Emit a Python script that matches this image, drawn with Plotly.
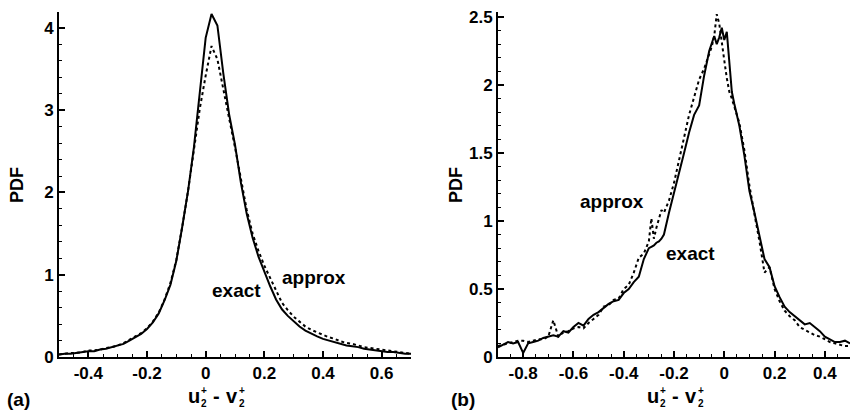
import plotly.graph_objects as go

# ---------------- data: panel (a) ----------------
xa = [-0.50, -0.48, -0.46, -0.44, -0.42, -0.40, -0.38, -0.36, -0.34, -0.32,
      -0.30, -0.28, -0.26, -0.24, -0.22, -0.20, -0.18, -0.16, -0.14, -0.12,
      -0.10, -0.08, -0.06, -0.04, -0.02, 0.00, 0.02, 0.04, 0.06, 0.08,
      0.10, 0.12, 0.14, 0.16, 0.18, 0.20, 0.22, 0.24, 0.26, 0.28,
      0.30, 0.32, 0.34, 0.36, 0.38, 0.40, 0.42, 0.44, 0.46, 0.48,
      0.50, 0.52, 0.54, 0.56, 0.58, 0.60, 0.62, 0.64, 0.66, 0.68, 0.70]
exact_a = [0.03, 0.04, 0.04, 0.05, 0.06, 0.07, 0.07, 0.09, 0.10, 0.12,
           0.14, 0.16, 0.20, 0.24, 0.28, 0.34, 0.42, 0.53, 0.69, 0.88,
           1.17, 1.58, 2.02, 2.55, 3.20, 3.88, 4.17, 4.03, 3.45, 2.95,
           2.58, 2.12, 1.74, 1.45, 1.22, 1.03, 0.86, 0.70, 0.58, 0.50,
           0.43, 0.37, 0.32, 0.28, 0.25, 0.22, 0.20, 0.18, 0.16, 0.14,
           0.13, 0.12, 0.10, 0.09, 0.08, 0.07, 0.06, 0.06, 0.05, 0.04, 0.04]
approx_a = [0.03, 0.04, 0.05, 0.05, 0.06, 0.08, 0.08, 0.09, 0.11, 0.12,
            0.14, 0.17, 0.21, 0.24, 0.29, 0.35, 0.43, 0.54, 0.70, 0.90,
            1.18, 1.58, 2.02, 2.52, 3.02, 3.42, 3.78, 3.62, 3.28, 2.90,
            2.55, 2.15, 1.79, 1.50, 1.29, 1.11, 0.96, 0.80, 0.66, 0.57,
            0.49, 0.43, 0.37, 0.33, 0.30, 0.27, 0.24, 0.22, 0.19, 0.17,
            0.16, 0.14, 0.12, 0.11, 0.10, 0.09, 0.08, 0.07, 0.06, 0.05, 0.04]

# ---------------- data: panel (b) ----------------
xb = [-0.90, -0.88, -0.86, -0.84, -0.82, -0.80, -0.78, -0.76, -0.74, -0.72,
      -0.70, -0.68, -0.66, -0.64, -0.62, -0.60, -0.58, -0.56, -0.54, -0.52,
      -0.50, -0.48, -0.46, -0.44, -0.42, -0.40, -0.38, -0.36, -0.34, -0.32,
      -0.30, -0.29, -0.28, -0.27, -0.26, -0.25,
      -0.24, -0.22, -0.20, -0.18, -0.16, -0.14, -0.12, -0.10, -0.08, -0.06,
      -0.05, -0.04, -0.03, -0.02, -0.01, 0.00, 0.01, 0.02, 0.03, 0.04,
      0.06, 0.08, 0.10, 0.12, 0.14, 0.16, 0.18, 0.20, 0.22, 0.24,
      0.26, 0.28, 0.30, 0.32, 0.34, 0.36, 0.38, 0.40, 0.42, 0.44,
      0.46, 0.48, 0.50]
exact_b = [0.07, 0.09, 0.11, 0.10, 0.11, 0.03, 0.10, 0.11, 0.12, 0.14,
           0.15, 0.16, 0.15, 0.19, 0.18, 0.22, 0.25, 0.23, 0.28, 0.31,
           0.33, 0.36, 0.39, 0.41, 0.42, 0.47, 0.50, 0.55, 0.59, 0.72,
           0.80, 0.81, 0.82, 0.84, 0.85, 0.87,
           0.90, 1.06, 1.20, 1.35, 1.50, 1.65, 1.78, 1.85, 2.07, 2.25,
           2.30, 2.36, 2.30, 2.35, 2.42, 2.33, 2.39, 2.15, 1.95, 1.86,
           1.70, 1.48, 1.22, 1.06, 0.90, 0.72, 0.66, 0.52, 0.44, 0.37,
           0.33, 0.30, 0.27, 0.24, 0.25, 0.22, 0.19, 0.15, 0.13, 0.11,
           0.11, 0.12, 0.10]
approx_b = [0.08, 0.09, 0.10, 0.11, 0.12, 0.12, 0.11, 0.12, 0.13, 0.13,
            0.15, 0.27, 0.15, 0.18, 0.19, 0.21, 0.22, 0.21, 0.25, 0.28,
            0.31, 0.37, 0.38, 0.42, 0.43, 0.50, 0.53, 0.62, 0.73, 0.76,
            0.85, 1.02, 0.87, 0.95, 1.02, 1.08,
            1.06, 1.15, 1.28, 1.45, 1.62, 1.78, 1.91, 2.04, 2.12, 2.22,
            2.28, 2.36, 2.52, 2.45, 2.33, 2.18, 2.05, 1.95, 1.90, 1.84,
            1.72, 1.52, 1.26, 1.05, 0.85, 0.62, 0.66, 0.50, 0.41, 0.34,
            0.30, 0.27, 0.22, 0.20, 0.18, 0.16, 0.15, 0.13, 0.11, 0.10,
            0.09, 0.08, 0.08]

# ---------------- tick labels ----------------
xa_tickvals = [-0.4, -0.2, 0.0, 0.2, 0.4, 0.6]
xa_ticktext = ["-0.4", "-0.2", "0", "0.2", "0.4", "0.6"]
ya_tickvals = [0, 1, 2, 3, 4]
ya_ticktext = ["0", "1", "2", "3", "4"]
xb_tickvals = [-0.8, -0.6, -0.4, -0.2, 0.0, 0.2, 0.4]
xb_ticktext = ["-0.8", "-0.6", "-0.4", "-0.2", "0", "0.2", "0.4"]
yb_tickvals = [0, 0.5, 1, 1.5, 2, 2.5]
yb_ticktext = ["0", "0.5", "1", "1.5", "2", "2.5"]

FONT = "Liberation Sans"
W, H = 850, 410

fig = go.Figure()
line_exact = dict(color="black", width=2, dash="solid")
line_approx = dict(color="black", width=2, dash="dot")

fig.add_trace(go.Scatter(x=xa, y=exact_a, mode="lines", line=line_exact,
                         xaxis="x", yaxis="y", name="exact"))
fig.add_trace(go.Scatter(x=xa, y=approx_a, mode="lines", line=line_approx,
                         xaxis="x", yaxis="y", name="approx"))
fig.add_trace(go.Scatter(x=xb, y=exact_b, mode="lines", line=line_exact,
                         xaxis="x2", yaxis="y2", name="exact"))
fig.add_trace(go.Scatter(x=xb, y=approx_b, mode="lines", line=line_approx,
                         xaxis="x2", yaxis="y2", name="approx"))

tickfont = dict(family=FONT, size=17, color="black", weight="bold")


def axis_common(minor_dtick):
    return dict(
        showline=True, linecolor="black", linewidth=2, mirror=False,
        showgrid=False, zeroline=False,
        ticks="inside", ticklen=6, tickwidth=2, tickcolor="black",
        tickfont=tickfont, tickmode="array", automargin=False,
        minor=dict(tickmode="linear", tick0=0, dtick=minor_dtick,
                   ticks="inside", ticklen=3, tickwidth=1,
                   tickcolor="black", showgrid=False),
    )


ybot = (H - 357) / H
ytop = (H - 11.5) / H

fig.update_layout(
    width=W, height=H,
    margin=dict(l=0, r=0, t=0, b=0),
    paper_bgcolor="white", plot_bgcolor="white",
    showlegend=False,
    xaxis=dict(domain=[59 / W, 411 / W], range=[-0.5, 0.7],
               tickvals=xa_tickvals, ticktext=xa_ticktext,
               anchor="y", **axis_common(0.05)),
    yaxis=dict(domain=[ybot, ytop], range=[0, 4.2],
               tickvals=ya_tickvals, ticktext=ya_ticktext,
               anchor="x", **axis_common(0.2)),
    xaxis2=dict(domain=[498 / W, 850 / W], range=[-0.9, 0.5],
                tickvals=xb_tickvals, ticktext=xb_ticktext,
                anchor="y2", **axis_common(0.05)),
    yaxis2=dict(domain=[ybot, ytop], range=[0, 2.54],
                tickvals=yb_tickvals, ticktext=yb_ticktext,
                anchor="x2", **axis_common(0.1)),
)


def px_ann(text, x, y, size, xanchor="center", yanchor="middle", angle=0):
    fig.add_annotation(
        text=text, x=x / W, y=1 - y / H, xref="paper", yref="paper",
        showarrow=False, xanchor=xanchor, yanchor=yanchor, textangle=angle,
        font=dict(family=FONT, size=size, color="black", weight="bold"),
    )


# y titles
px_ann("PDF", 17, 185, 18, angle=-90)
px_ann("PDF", 456, 185, 18, angle=-90)

# panel labels
px_ann("(a)", 18, 399, 19)
px_ann("(b)", 463, 399, 19)

# curve labels
px_ann("approx", 314, 277, 19)
px_ann("exact", 236, 290, 19)
px_ann("approx", 612, 201, 19)
px_ann("exact", 690, 253, 19)


# x titles: u2+ - v2+ with stacked sub/superscripts
def xtitle(x0):
    px_ann("u", x0, 396, 20, xanchor="left")
    px_ann("+", x0 + 13, 390, 10, xanchor="left")
    px_ann("2", x0 + 13, 403, 10, xanchor="left")
    px_ann("-", x0 + 25, 396, 20, xanchor="left")
    px_ann("v", x0 + 38, 396, 20, xanchor="left")
    px_ann("+", x0 + 51, 390, 10, xanchor="left")
    px_ann("2", x0 + 51, 403, 10, xanchor="left")


xtitle(186)
xtitle(645)

fig.write_html("out.html",
               config={"displayModeBar": False},
               post_script="document.body.style.margin='0';"
                           "document.body.style.overflow='hidden';")
